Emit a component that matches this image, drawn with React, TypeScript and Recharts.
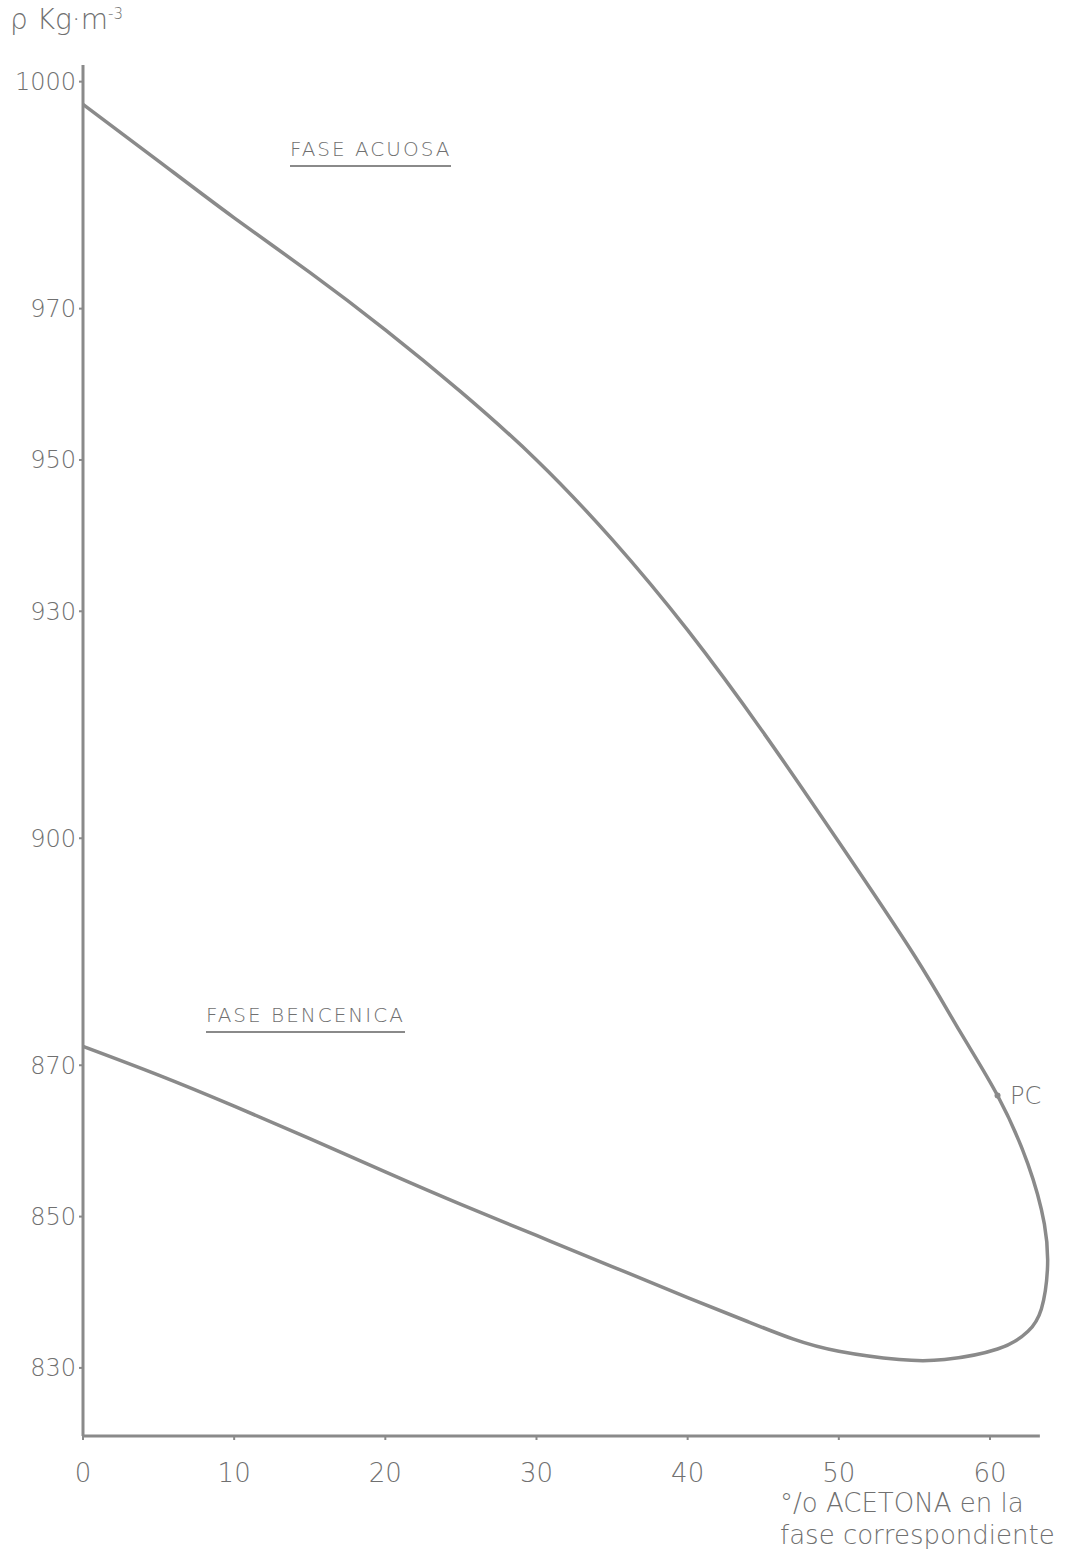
import React from "react";
import { LineChart, Line, XAxis, YAxis, ReferenceLine, ReferenceDot } from "recharts";

// Fase acuosa (upper branch, from 0 % acetone up to the plait point and around the turn)
const acuosaX = [0, 5, 10, 15, 20, 25, 30, 35, 40, 45, 50, 55, 58, 60.5, 62.5, 63.6];
const acuosaY = [997, 989.5, 982, 974.8, 967.2, 959, 950, 939.5, 927.5, 914, 899.5, 884.5, 874.5, 866, 857, 849];
// Fase bencénica (lower branch, from the turn back to 0 % acetone)
const bencenicaX = [63.8, 63.4, 62.5, 60.5, 57, 54, 50, 47, 44, 40, 35, 30, 25, 20, 15, 10, 5, 0];
const bencenicaY = [843, 837.8, 834.8, 832.5, 831.1, 831.1, 832.2, 833.8, 836.1, 839.3, 843.4, 847.5, 851.6, 855.9, 860.3, 864.6, 868.7, 872.5];

const xTicks = [0, 10, 20, 30, 40, 50, 60];
const yTicks = [830, 850, 870, 900, 930, 950, 970, 1000];
const plaitPoint = { x: 60.5, y: 866 };

const curve = [
  ...acuosaX.map((x, i) => ({ x, y: acuosaY[i] })),
  ...bencenicaX.map((x, i) => ({ x, y: bencenicaY[i] })),
];

const INK = "#8a8a8a";
const TEXT = "#707070";
const FONT = "'DejaVu Sans', sans-serif";

const abs = (left: number, top: number, size: number, extra: React.CSSProperties = {}): React.CSSProperties => ({
  position: "absolute",
  left,
  top,
  fontFamily: FONT,
  fontSize: size,
  color: TEXT,
  whiteSpace: "nowrap",
  fontWeight: 300,
  lineHeight: 1,
  ...extra,
});

export default function App() {
  return (
    <div style={{ position: "absolute", left: 0, top: 0, width: 1070, height: 1556, background: "#fff" }}>
      <LineChart
        width={1070}
        height={1556}
        data={curve}
        margin={{ top: 65, right: 12, bottom: 0, left: 0 }}
      >
        <XAxis
          type="number"
          dataKey="x"
          domain={[0, 64.5]}
          ticks={xTicks}
          allowDataOverflow
          axisLine={false}
          tickLine={{ stroke: INK, strokeWidth: 2 }}
          tickSize={4}
          tickMargin={24}
          height={120}
          tick={{ fill: TEXT, fontSize: 26, fontFamily: FONT, fontWeight: 300 }}
          interval={0}
        />
        <YAxis
          type="number"
          dataKey="y"
          domain={[821, 1002.2]}
          ticks={yTicks}
          allowDataOverflow
          width={83}
          axisLine={{ stroke: INK, strokeWidth: 3 }}
          tickLine={{ stroke: INK, strokeWidth: 2 }}
          tickSize={4}
          tickMargin={3}
          tick={{ fill: TEXT, fontSize: 24, fontFamily: FONT, fontWeight: 300 }}
          interval={0}
        />
        <ReferenceLine
          segment={[{ x: 0, y: 821 }, { x: 63.3, y: 821 }]}
          stroke={INK}
          strokeWidth={3}
        />
        <Line
          type="natural"
          dataKey="y"
          stroke={INK}
          strokeWidth={3.5}
          dot={false}
          isAnimationActive={false}
        />
        <ReferenceDot x={plaitPoint.x} y={plaitPoint.y} r={3} fill={INK} stroke="none" />
      </LineChart>

      <div style={abs(10, 6, 28)}>
        ρ Kg·m<sup style={{ fontSize: 15 }}>-3</sup>
      </div>
      <div style={abs(290, 139, 20, { letterSpacing: 2, borderBottom: `2px solid ${INK}`, paddingBottom: 6 })}>
        FASE ACUOSA
      </div>
      <div style={abs(206, 1005, 20, { letterSpacing: 2, borderBottom: `2px solid ${INK}`, paddingBottom: 6 })}>
        FASE BENCENICA
      </div>
      <div style={abs(1010, 1084, 24)}>PC</div>
      <div style={abs(780, 1490, 26)}>°/o ACETONA en la</div>
      <div style={abs(780, 1522, 26)}>fase correspondiente</div>
    </div>
  );
}
